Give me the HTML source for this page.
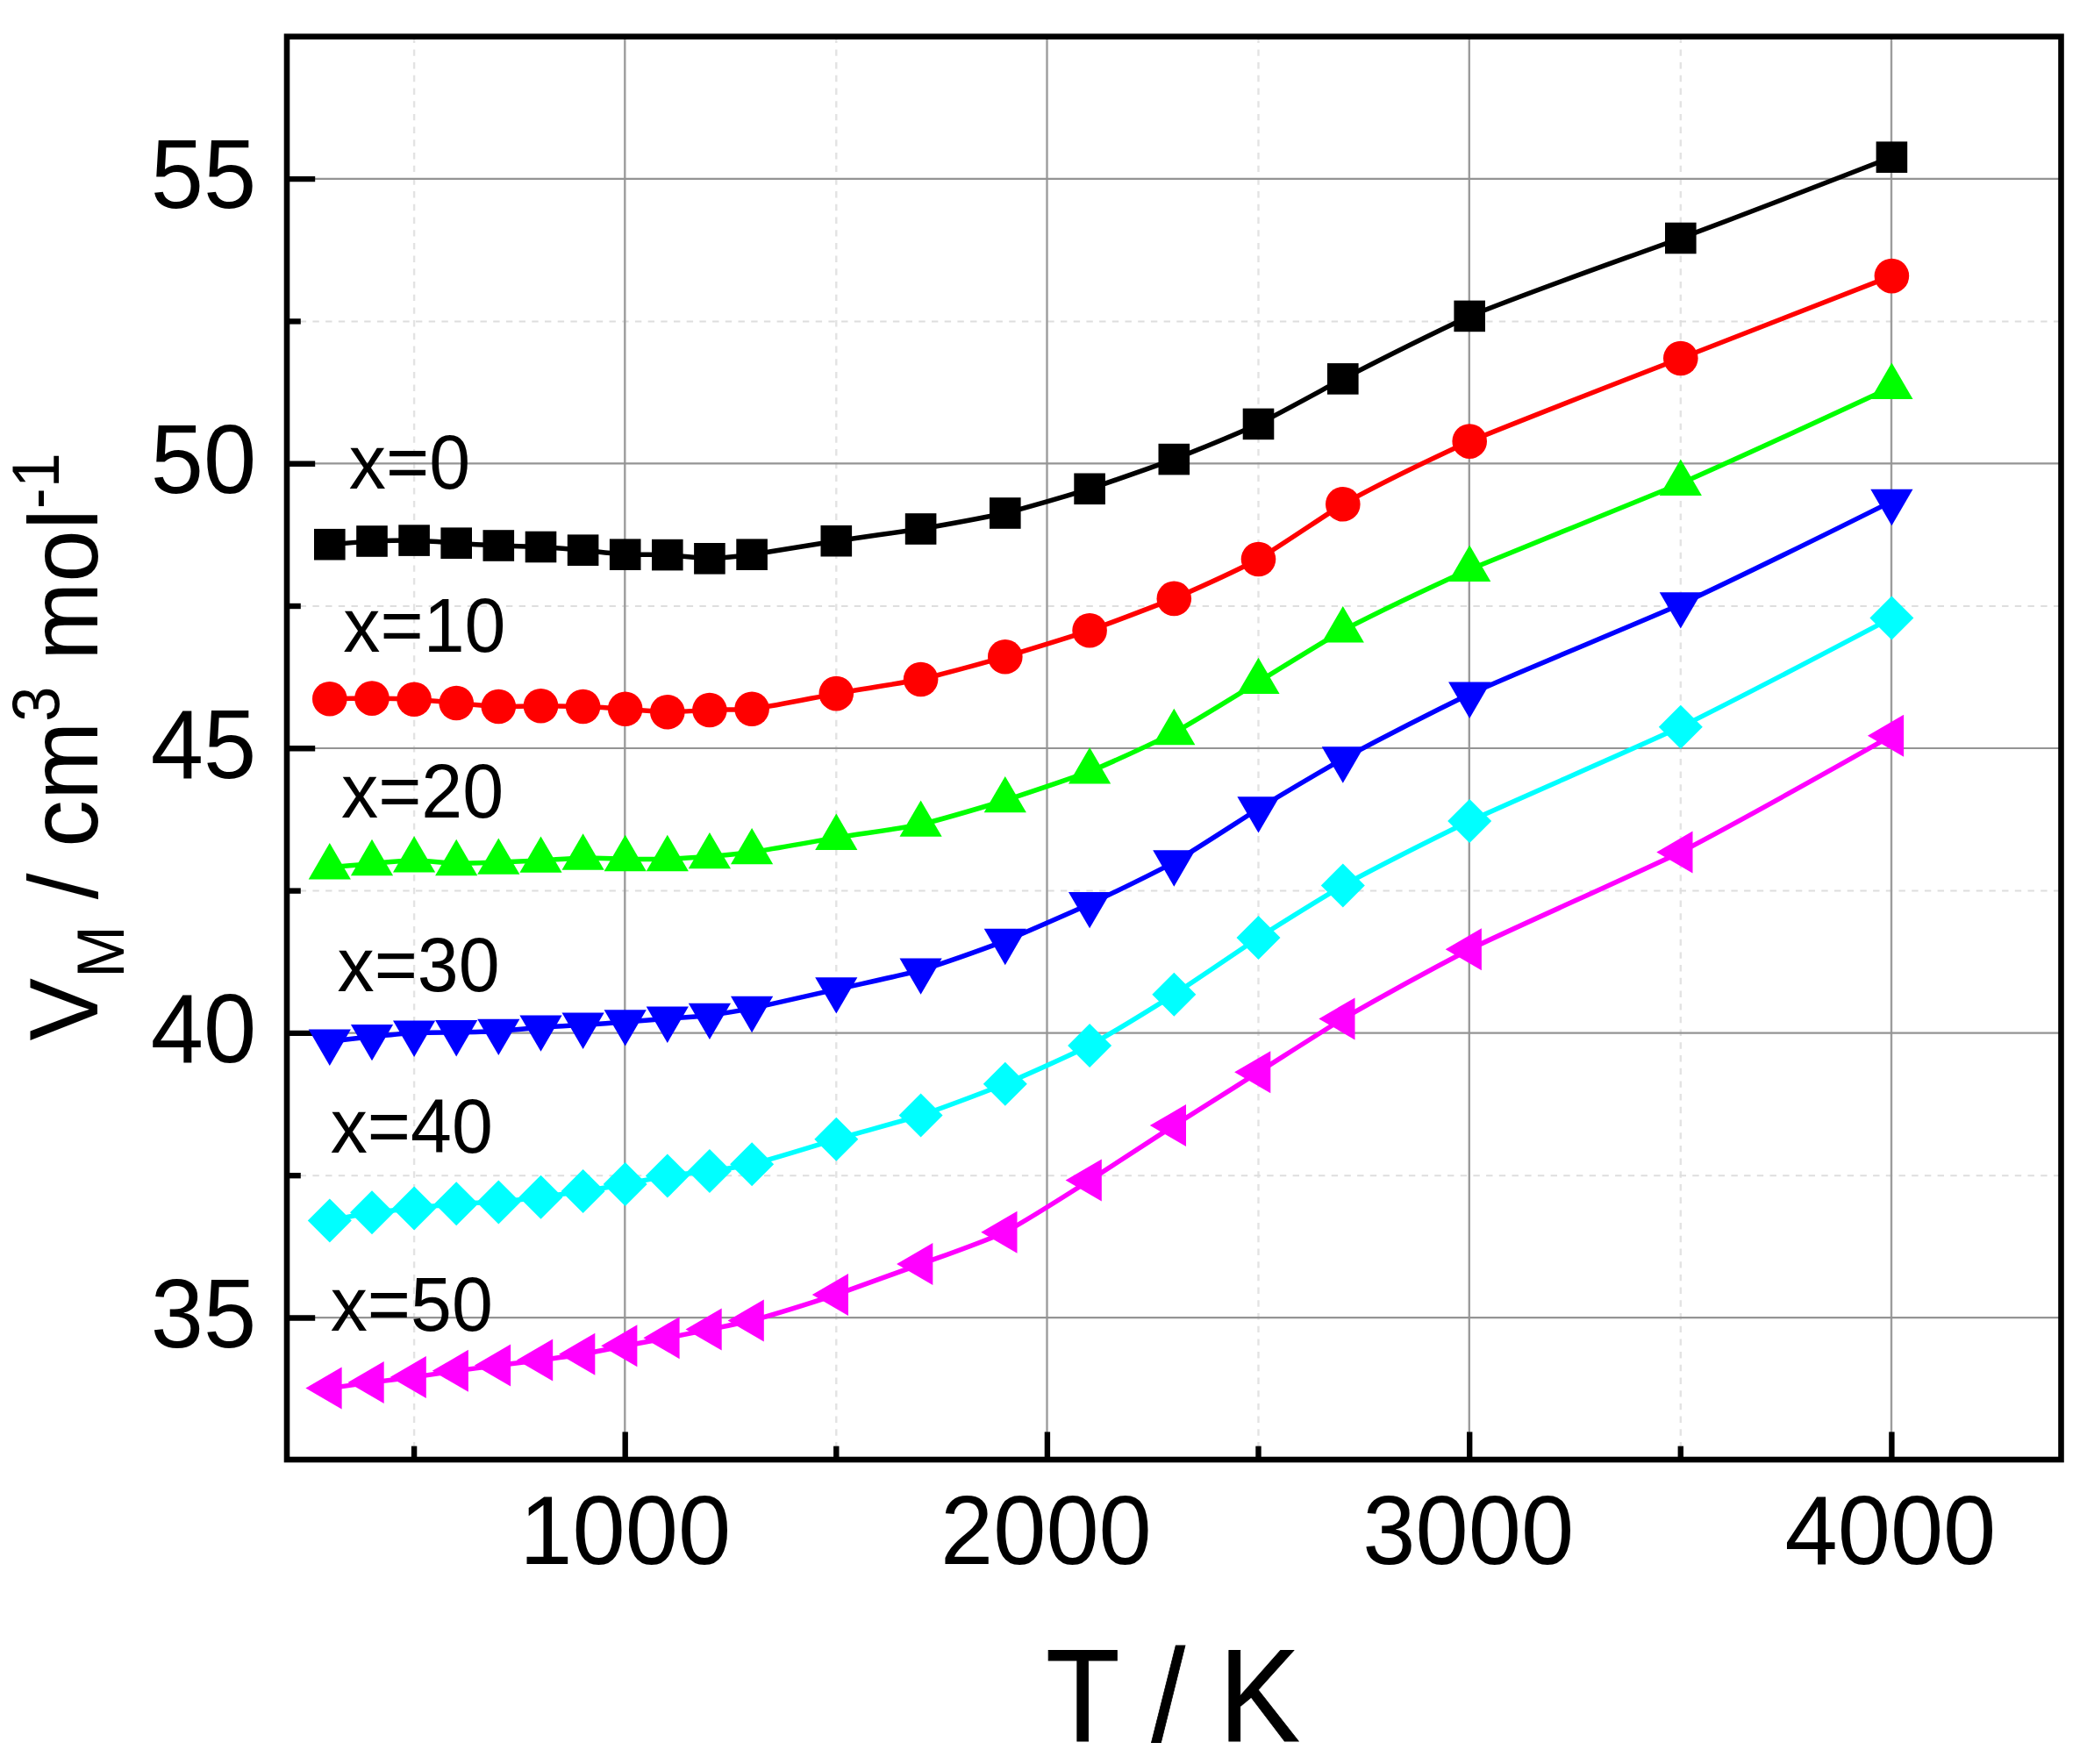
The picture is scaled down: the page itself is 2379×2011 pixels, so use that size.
<!DOCTYPE html>
<html lang="en"><head><meta charset="utf-8"><title>Molar volume vs temperature</title>
<style>html,body{margin:0;padding:0;background:#fff}svg{display:block}text{font-family:"Liberation Sans",Arial,Helvetica,sans-serif;fill:#000}</style></head><body>
<svg width="2379" height="2011" viewBox="0 0 2379 2011">
<rect width="2379" height="2011" fill="#fff"/>
<g fill="none">
<line x1="472.1" y1="41.7" x2="472.1" y2="1664" stroke="#e3e3e3" stroke-width="2.4" stroke-dasharray="7.4 7.3"/>
<line x1="953.3" y1="41.7" x2="953.3" y2="1664" stroke="#e3e3e3" stroke-width="2.4" stroke-dasharray="7.4 7.3"/>
<line x1="1434.5" y1="41.7" x2="1434.5" y2="1664" stroke="#e3e3e3" stroke-width="2.4" stroke-dasharray="7.4 7.3"/>
<line x1="1915.8" y1="41.7" x2="1915.8" y2="1664" stroke="#e3e3e3" stroke-width="2.4" stroke-dasharray="7.4 7.3"/>
<line x1="327" y1="1340.2" x2="2349.5" y2="1340.2" stroke="#dedede" stroke-width="2" stroke-dasharray="7.4 7.3"/>
<line x1="327" y1="1015.6" x2="2349.5" y2="1015.6" stroke="#dedede" stroke-width="2" stroke-dasharray="7.4 7.3"/>
<line x1="327" y1="691" x2="2349.5" y2="691" stroke="#dedede" stroke-width="2" stroke-dasharray="7.4 7.3"/>
<line x1="327" y1="366.4" x2="2349.5" y2="366.4" stroke="#dedede" stroke-width="2" stroke-dasharray="7.4 7.3"/>
<line x1="712.3" y1="41.7" x2="712.3" y2="1664" stroke="#9c9c9c" stroke-width="2.4"/>
<line x1="1193.5" y1="41.7" x2="1193.5" y2="1664" stroke="#9c9c9c" stroke-width="2.4"/>
<line x1="1674.8" y1="41.7" x2="1674.8" y2="1664" stroke="#9c9c9c" stroke-width="2.4"/>
<line x1="2156" y1="41.7" x2="2156" y2="1664" stroke="#9c9c9c" stroke-width="2.4"/>
<line x1="327" y1="1502.2" x2="2349.5" y2="1502.2" stroke="#949494" stroke-width="2.2"/>
<line x1="327" y1="1177.6" x2="2349.5" y2="1177.6" stroke="#949494" stroke-width="2.2"/>
<line x1="327" y1="853" x2="2349.5" y2="853" stroke="#949494" stroke-width="2.2"/>
<line x1="327" y1="528.4" x2="2349.5" y2="528.4" stroke="#949494" stroke-width="2.2"/>
<line x1="327" y1="203.8" x2="2349.5" y2="203.8" stroke="#949494" stroke-width="2.2"/>
</g>
<g stroke="#000" stroke-width="6.4" fill="none">
<line x1="327" y1="1502.5" x2="359.2" y2="1502.5"/>
<line x1="327" y1="1177.9" x2="359.2" y2="1177.9"/>
<line x1="327" y1="853.3" x2="359.2" y2="853.3"/>
<line x1="327" y1="528.7" x2="359.2" y2="528.7"/>
<line x1="327" y1="204.1" x2="359.2" y2="204.1"/>
<line x1="327" y1="1340.2" x2="342.8" y2="1340.2"/>
<line x1="327" y1="1015.6" x2="342.8" y2="1015.6"/>
<line x1="327" y1="691" x2="342.8" y2="691"/>
<line x1="327" y1="366.4" x2="342.8" y2="366.4"/>
<line x1="712.7" y1="1664" x2="712.7" y2="1632.4"/>
<line x1="1193.9" y1="1664" x2="1193.9" y2="1632.4"/>
<line x1="1675.2" y1="1664" x2="1675.2" y2="1632.4"/>
<line x1="2156.4" y1="1664" x2="2156.4" y2="1632.4"/>
<line x1="472.1" y1="1664" x2="472.1" y2="1648.6"/>
<line x1="953.3" y1="1664" x2="953.3" y2="1648.6"/>
<line x1="1434.5" y1="1664" x2="1434.5" y2="1648.6"/>
<line x1="1915.8" y1="1664" x2="1915.8" y2="1648.6"/>
<rect x="327" y="41.7" width="2022.5" height="1622.3" stroke-width="6.6"/>
</g>
<text transform="translate(397.8 557) scale(1 1.037)" font-size="84.3">x=0</text>
<text transform="translate(391.3 743) scale(1 1.037)" font-size="84.3">x=10</text>
<text transform="translate(389 931.6) scale(1 1.037)" font-size="84.3">x=20</text>
<text transform="translate(384.5 1130.2) scale(1 1.037)" font-size="84.3">x=30</text>
<text transform="translate(376.7 1313.9) scale(1 1.037)" font-size="84.3">x=40</text>
<text transform="translate(376.7 1516.9) scale(1 1.037)" font-size="84.3">x=50</text>
<g fill="#000000" stroke="none">
<path d="M375.8 620.7C391.9 619.4 407.9 618.1 424 617C440 616.4 456 616 472.1 616.1C488.1 616.9 504.2 618.1 520.2 619.2C536.2 620.3 552.3 621.2 568.3 622C584.4 622.5 600.4 622.9 616.5 623.5C632.5 624.5 648.5 625.7 664.6 627.2C680.6 628.9 696.7 631 712.7 632.2C728.7 632.6 744.8 632.1 760.8 632.6C776.9 633.8 792.9 635.9 808.9 636.8C825 636.1 841 634.2 857.1 632.2C889.2 627.1 921.2 621.7 953.3 616.7C985.4 612 1017.5 607.7 1049.6 603C1081.6 597.5 1113.7 591.7 1145.8 585C1177.9 576.5 1210 567.1 1242.1 557.3C1274.1 546.4 1306.2 535.2 1338.3 523.6C1370.4 510.8 1402.5 497.8 1434.5 483.4C1466.6 467 1498.7 449.2 1530.8 431.9C1578.9 407 1627 382.9 1675.2 360.4C1755.4 328.4 1835.6 300.7 1915.8 271.5C1996 241.7 2076.2 210.4 2156.4 179.2" fill="none" stroke="#000000" stroke-width="5.5" stroke-linejoin="round"/>
<rect x="358" y="602.9" width="35.6" height="35.6"/><rect x="406.2" y="599.2" width="35.6" height="35.6"/><rect x="454.3" y="598.3" width="35.6" height="35.6"/><rect x="502.4" y="601.4" width="35.6" height="35.6"/><rect x="550.5" y="604.2" width="35.6" height="35.6"/><rect x="598.7" y="605.7" width="35.6" height="35.6"/><rect x="646.8" y="609.4" width="35.6" height="35.6"/><rect x="694.9" y="614.4" width="35.6" height="35.6"/><rect x="743" y="614.8" width="35.6" height="35.6"/><rect x="791.1" y="619" width="35.6" height="35.6"/><rect x="839.3" y="614.4" width="35.6" height="35.6"/><rect x="935.5" y="598.9" width="35.6" height="35.6"/><rect x="1031.8" y="585.2" width="35.6" height="35.6"/><rect x="1128" y="567.2" width="35.6" height="35.6"/><rect x="1224.3" y="539.5" width="35.6" height="35.6"/><rect x="1320.5" y="505.8" width="35.6" height="35.6"/><rect x="1416.7" y="465.6" width="35.6" height="35.6"/><rect x="1513" y="414.1" width="35.6" height="35.6"/><rect x="1657.4" y="342.6" width="35.6" height="35.6"/><rect x="1898" y="253.7" width="35.6" height="35.6"/><rect x="2138.6" y="161.4" width="35.6" height="35.6"/>
</g>
<g fill="#ff0000" stroke="none">
<path d="M375.8 796.7C391.9 796.5 407.9 796.2 424 796.1C440 796.3 456 796.6 472.1 797.2C488.1 798.4 504.2 799.9 520.2 801.5C536.2 803 552.3 804.6 568.3 805.5C584.4 805.5 600.4 805 616.5 804.7C632.5 804.7 648.5 805.1 664.6 805.5C680.6 806.3 696.7 807.1 712.7 808.2C728.7 809.5 744.8 811 760.8 811.7C776.9 811.4 792.9 810.2 808.9 809.5C825 809 841 809 857.1 808.2C889.2 803.9 921.2 796.6 953.3 790.6C985.4 784.9 1017.5 780.4 1049.6 774.5C1081.6 766.8 1113.7 757.7 1145.8 748.7C1177.9 738.9 1210 729.2 1242.1 718.8C1274.1 707.2 1306.2 694.9 1338.3 682.4C1370.4 668.4 1402.5 654.1 1434.5 637.5C1466.6 617.6 1498.7 595.3 1530.8 574.8C1578.9 548.1 1627 525.3 1675.2 503.1C1755.4 470.6 1835.6 439.7 1915.8 408.5C1996 377.4 2076.2 346 2156.4 314.6" fill="none" stroke="#ff0000" stroke-width="5.5" stroke-linejoin="round"/>
<circle cx="375.8" cy="796.7" r="19.8"/><circle cx="424" cy="796.1" r="19.8"/><circle cx="472.1" cy="797.2" r="19.8"/><circle cx="520.2" cy="801.5" r="19.8"/><circle cx="568.3" cy="805.5" r="19.8"/><circle cx="616.5" cy="804.7" r="19.8"/><circle cx="664.6" cy="805.5" r="19.8"/><circle cx="712.7" cy="808.2" r="19.8"/><circle cx="760.8" cy="811.7" r="19.8"/><circle cx="808.9" cy="809.5" r="19.8"/><circle cx="857.1" cy="808.2" r="19.8"/><circle cx="953.3" cy="790.6" r="19.8"/><circle cx="1049.6" cy="774.5" r="19.8"/><circle cx="1145.8" cy="748.7" r="19.8"/><circle cx="1242.1" cy="718.8" r="19.8"/><circle cx="1338.3" cy="682.4" r="19.8"/><circle cx="1434.5" cy="637.5" r="19.8"/><circle cx="1530.8" cy="574.8" r="19.8"/><circle cx="1675.2" cy="503.1" r="19.8"/><circle cx="1915.8" cy="408.5" r="19.8"/><circle cx="2156.4" cy="314.6" r="19.8"/>
</g>
<g fill="#00ff00" stroke="none">
<path d="M375.8 988.7C391.9 987.3 407.9 986 424 984.4C440 983 456 981.3 472.1 980.8C488.1 981.6 504.2 983.4 520.2 984.4C536.2 984.4 552.3 983.6 568.3 983C584.4 982.3 600.4 981.8 616.5 981C632.5 980 648.5 978.6 664.6 977.9C680.6 978 696.7 978.9 712.7 979.4C728.7 979.7 744.8 979.6 760.8 979.4C776.9 978.6 792.9 977.6 808.9 976.5C825 975 841 973.4 857.1 971.5C889.2 966.5 921.2 960.4 953.3 955.1C985.4 950 1017.5 945.8 1049.6 940C1081.6 931.9 1113.7 922.2 1145.8 912.5C1177.9 901.9 1210 891.3 1242.1 879.7C1274.1 866 1306.2 851.4 1338.3 835.4C1370.4 816.9 1402.5 797.1 1434.5 777.3C1466.6 757.4 1498.7 737.5 1530.8 718.6C1578.9 693.7 1627 671.1 1675.2 649.2C1755.4 615.9 1835.6 584.5 1915.8 551.2C1996 515.7 2076.2 478.5 2156.4 441.2" fill="none" stroke="#00ff00" stroke-width="5.5" stroke-linejoin="round"/>
<path d="M375.8 961.1L399.9 1002.5L351.7 1002.5Z"/><path d="M424 956.8L448.1 998.2L399.9 998.2Z"/><path d="M472.1 953.2L496.2 994.6L448 994.6Z"/><path d="M520.2 956.8L544.3 998.2L496.1 998.2Z"/><path d="M568.3 955.4L592.4 996.8L544.2 996.8Z"/><path d="M616.5 953.4L640.6 994.8L592.4 994.8Z"/><path d="M664.6 950.3L688.7 991.7L640.5 991.7Z"/><path d="M712.7 951.8L736.8 993.2L688.6 993.2Z"/><path d="M760.8 951.8L784.9 993.2L736.7 993.2Z"/><path d="M808.9 948.9L833 990.3L784.8 990.3Z"/><path d="M857.1 943.9L881.2 985.3L833 985.3Z"/><path d="M953.3 927.5L977.4 968.9L929.2 968.9Z"/><path d="M1049.6 912.4L1073.7 953.8L1025.5 953.8Z"/><path d="M1145.8 884.9L1169.9 926.3L1121.7 926.3Z"/><path d="M1242.1 852.1L1266.2 893.5L1218 893.5Z"/><path d="M1338.3 807.8L1362.4 849.2L1314.2 849.2Z"/><path d="M1434.5 749.7L1458.6 791.1L1410.4 791.1Z"/><path d="M1530.8 691L1554.9 732.4L1506.7 732.4Z"/><path d="M1675.2 621.6L1699.3 663L1651.1 663Z"/><path d="M1915.8 523.6L1939.9 565L1891.7 565Z"/><path d="M2156.4 413.6L2180.5 455L2132.3 455Z"/>
</g>
<g fill="#0000ff" stroke="none">
<path d="M375.8 1187.3C391.9 1185.4 407.9 1183.5 424 1181.7C440 1180.1 456 1178.5 472.1 1177.4C488.1 1177 504.2 1177 520.2 1176.9C536.2 1176.6 552.3 1176.3 568.3 1175.5C584.4 1174.2 600.4 1172.6 616.5 1171.2C632.5 1170.1 648.5 1169.3 664.6 1168.4C680.6 1167.4 696.7 1166.2 712.7 1165C728.7 1163.7 744.8 1162.5 760.8 1161.3C776.9 1160.1 792.9 1159 808.9 1157.5C825 1155.2 841 1152.5 857.1 1149.6C889.2 1142.7 921.2 1135.1 953.3 1128C985.4 1120.8 1017.5 1114.2 1049.6 1106.2C1081.6 1096.1 1113.7 1084.6 1145.8 1072.6C1177.9 1059.1 1210 1044.9 1242.1 1030.7C1274.1 1015.4 1306.2 1000.1 1338.3 983.1C1370.4 963.6 1402.5 942.4 1434.5 922C1466.6 902.4 1498.7 883.5 1530.8 865.1C1578.9 839.5 1627 814.8 1675.2 791.3C1755.4 755.9 1835.6 723.7 1915.8 689C1996 651.5 2076.2 611.6 2156.4 571.6" fill="none" stroke="#0000ff" stroke-width="5.5" stroke-linejoin="round"/>
<path d="M375.8 1214.9L399.9 1173.5L351.7 1173.5Z"/><path d="M424 1209.3L448.1 1167.9L399.9 1167.9Z"/><path d="M472.1 1205L496.2 1163.6L448 1163.6Z"/><path d="M520.2 1204.5L544.3 1163.1L496.1 1163.1Z"/><path d="M568.3 1203.1L592.4 1161.7L544.2 1161.7Z"/><path d="M616.5 1198.8L640.6 1157.4L592.4 1157.4Z"/><path d="M664.6 1196L688.7 1154.6L640.5 1154.6Z"/><path d="M712.7 1192.6L736.8 1151.2L688.6 1151.2Z"/><path d="M760.8 1188.9L784.9 1147.5L736.7 1147.5Z"/><path d="M808.9 1185.1L833 1143.7L784.8 1143.7Z"/><path d="M857.1 1177.2L881.2 1135.8L833 1135.8Z"/><path d="M953.3 1155.6L977.4 1114.2L929.2 1114.2Z"/><path d="M1049.6 1133.8L1073.7 1092.4L1025.5 1092.4Z"/><path d="M1145.8 1100.2L1169.9 1058.8L1121.7 1058.8Z"/><path d="M1242.1 1058.3L1266.2 1016.9L1218 1016.9Z"/><path d="M1338.3 1010.7L1362.4 969.3L1314.2 969.3Z"/><path d="M1434.5 949.6L1458.6 908.2L1410.4 908.2Z"/><path d="M1530.8 892.7L1554.9 851.3L1506.7 851.3Z"/><path d="M1675.2 818.9L1699.3 777.5L1651.1 777.5Z"/><path d="M1915.8 716.6L1939.9 675.2L1891.7 675.2Z"/><path d="M2156.4 599.2L2180.5 557.8L2132.3 557.8Z"/>
</g>
<g fill="#00ffff" stroke="none">
<path d="M375.8 1391.5C391.9 1388.2 407.9 1384.9 424 1382.2C440 1380.4 456 1379.1 472.1 1377.5C488.1 1375.8 504.2 1373.7 520.2 1372.2C536.2 1371.4 552.3 1371.2 568.3 1370.4C584.4 1368.9 600.4 1366.8 616.5 1364.8C632.5 1362.6 648.5 1360.4 664.6 1358.1C680.6 1355.6 696.7 1352.9 712.7 1350C728.7 1346.9 744.8 1343.4 760.8 1340.6C776.9 1338.5 792.9 1336.9 808.9 1335.1C825 1332.8 841 1330.3 857.1 1327.2C889.2 1318.8 921.2 1308.3 953.3 1298.8C985.4 1289.5 1017.5 1281.1 1049.6 1271.6C1081.6 1260.5 1113.7 1248.3 1145.8 1235.8C1177.9 1221.8 1210 1207.6 1242.1 1192C1274.1 1173.7 1306.2 1154 1338.3 1133.8C1370.4 1112.4 1402.5 1090.4 1434.5 1069C1466.6 1048.6 1498.7 1028.7 1530.8 1009.5C1578.9 983.6 1627 959.5 1675.2 936C1755.4 899.7 1835.6 865.5 1915.8 828.8C1996 789 2076.2 746.7 2156.4 704.4" fill="none" stroke="#00ffff" stroke-width="5.5" stroke-linejoin="round"/>
<path d="M375.8 1366.5L400.8 1391.5L375.8 1416.5L350.8 1391.5Z"/><path d="M424 1357.2L449 1382.2L424 1407.2L399 1382.2Z"/><path d="M472.1 1352.5L497.1 1377.5L472.1 1402.5L447.1 1377.5Z"/><path d="M520.2 1347.2L545.2 1372.2L520.2 1397.2L495.2 1372.2Z"/><path d="M568.3 1345.4L593.3 1370.4L568.3 1395.4L543.3 1370.4Z"/><path d="M616.5 1339.8L641.5 1364.8L616.5 1389.8L591.5 1364.8Z"/><path d="M664.6 1333.1L689.6 1358.1L664.6 1383.1L639.6 1358.1Z"/><path d="M712.7 1325L737.7 1350L712.7 1375L687.7 1350Z"/><path d="M760.8 1315.6L785.8 1340.6L760.8 1365.6L735.8 1340.6Z"/><path d="M808.9 1310.1L833.9 1335.1L808.9 1360.1L783.9 1335.1Z"/><path d="M857.1 1302.2L882.1 1327.2L857.1 1352.2L832.1 1327.2Z"/><path d="M953.3 1273.8L978.3 1298.8L953.3 1323.8L928.3 1298.8Z"/><path d="M1049.6 1246.6L1074.6 1271.6L1049.6 1296.6L1024.6 1271.6Z"/><path d="M1145.8 1210.8L1170.8 1235.8L1145.8 1260.8L1120.8 1235.8Z"/><path d="M1242.1 1167L1267.1 1192L1242.1 1217L1217.1 1192Z"/><path d="M1338.3 1108.8L1363.3 1133.8L1338.3 1158.8L1313.3 1133.8Z"/><path d="M1434.5 1044L1459.5 1069L1434.5 1094L1409.5 1069Z"/><path d="M1530.8 984.5L1555.8 1009.5L1530.8 1034.5L1505.8 1009.5Z"/><path d="M1675.2 911L1700.2 936L1675.2 961L1650.2 936Z"/><path d="M1915.8 803.8L1940.8 828.8L1915.8 853.8L1890.8 828.8Z"/><path d="M2156.4 679.4L2181.4 704.4L2156.4 729.4L2131.4 704.4Z"/>
</g>
<g fill="#ff00ff" stroke="none">
<path d="M375.8 1582.6C391.9 1580.3 407.9 1578 424 1575.9C440 1573.9 456 1572 472.1 1569.9C488.1 1567.6 504.2 1565.1 520.2 1562.8C536.2 1560.6 552.3 1558.6 568.3 1556.5C584.4 1554.5 600.4 1552.4 616.5 1550.4C632.5 1548.3 648.5 1546.2 664.6 1543.7C680.6 1540.7 696.7 1537.5 712.7 1534.3C728.7 1531.2 744.8 1528.3 760.8 1525.2C776.9 1522.1 792.9 1518.8 808.9 1515.6C825 1512.3 841 1509.1 857.1 1505.5C889.2 1496.6 921.2 1486.5 953.3 1475.9C985.4 1464.4 1017.5 1452.4 1049.6 1441.1C1081.6 1429.5 1113.7 1418.5 1145.8 1404.7C1177.9 1386.8 1210 1366 1242.1 1345.6C1274.1 1324.5 1306.2 1303.7 1338.3 1283.1C1370.4 1262.8 1402.5 1242.6 1434.5 1222.2C1466.6 1201.9 1498.7 1181.3 1530.8 1161.4C1578.9 1133.7 1627 1107.4 1675.2 1082.2C1755.4 1044.2 1835.6 1009.5 1915.8 971.5C1996 929.4 2076.2 884.1 2156.4 838.7" fill="none" stroke="#ff00ff" stroke-width="5.5" stroke-linejoin="round"/>
<path d="M348.4 1582.6L389.6 1558.6L389.6 1606.6Z"/><path d="M396.5 1575.9L437.7 1551.9L437.7 1599.9Z"/><path d="M444.6 1569.9L485.8 1545.9L485.8 1593.9Z"/><path d="M492.7 1562.8L533.9 1538.8L533.9 1586.8Z"/><path d="M540.9 1556.5L582.1 1532.5L582.1 1580.5Z"/><path d="M589 1550.4L630.2 1526.4L630.2 1574.4Z"/><path d="M637.1 1543.7L678.3 1519.7L678.3 1567.7Z"/><path d="M685.2 1534.3L726.4 1510.3L726.4 1558.3Z"/><path d="M733.4 1525.2L774.6 1501.2L774.6 1549.2Z"/><path d="M781.5 1515.6L822.7 1491.6L822.7 1539.6Z"/><path d="M829.6 1505.5L870.8 1481.5L870.8 1529.5Z"/><path d="M925.8 1475.9L967 1451.9L967 1499.9Z"/><path d="M1022.1 1441.1L1063.3 1417.1L1063.3 1465.1Z"/><path d="M1118.3 1404.7L1159.5 1380.7L1159.5 1428.7Z"/><path d="M1214.6 1345.6L1255.8 1321.6L1255.8 1369.6Z"/><path d="M1310.8 1283.1L1352 1259.1L1352 1307.1Z"/><path d="M1407.1 1222.2L1448.3 1198.2L1448.3 1246.2Z"/><path d="M1503.3 1161.4L1544.5 1137.4L1544.5 1185.4Z"/><path d="M1647.7 1082.2L1688.9 1058.2L1688.9 1106.2Z"/><path d="M1888.3 971.5L1929.5 947.5L1929.5 995.5Z"/><path d="M2128.9 838.7L2170.1 814.7L2170.1 862.7Z"/>
</g>
<text transform="translate(292.3 1535.7) scale(1 1.031)" font-size="108.3" text-anchor="end">35</text>
<text transform="translate(292.3 1211.1) scale(1 1.031)" font-size="108.3" text-anchor="end">40</text>
<text transform="translate(292.3 886.5) scale(1 1.031)" font-size="108.3" text-anchor="end">45</text>
<text transform="translate(292.3 561.9) scale(1 1.031)" font-size="108.3" text-anchor="end">50</text>
<text transform="translate(292.3 237.3) scale(1 1.031)" font-size="108.3" text-anchor="end">55</text>
<text transform="translate(712.7 1782.6) scale(1 1.031)" font-size="108.3" text-anchor="middle">1000</text>
<text transform="translate(1192.4 1782.6) scale(1 1.031)" font-size="108.3" text-anchor="middle">2000</text>
<text transform="translate(1673.7 1782.6) scale(1 1.031)" font-size="108.3" text-anchor="middle">3000</text>
<text transform="translate(2154.9 1782.6) scale(1 1.031)" font-size="108.3" text-anchor="middle">4000</text>
<text transform="translate(1192 1984.9) scale(1 1.081)" font-size="138.5" stroke="#000" stroke-width="0.8">T / K</text>
<text transform="translate(111 1186.5) rotate(-90) scale(1 1.046)" font-size="107.2">V<tspan font-size="72" dy="28.3">M</tspan><tspan dy="-28.3"> / cm</tspan><tspan font-size="72" dy="-42.1">3</tspan><tspan dy="42.1"> mol</tspan><tspan font-size="72" dy="-42.1">-1</tspan></text>
</svg></body></html>
